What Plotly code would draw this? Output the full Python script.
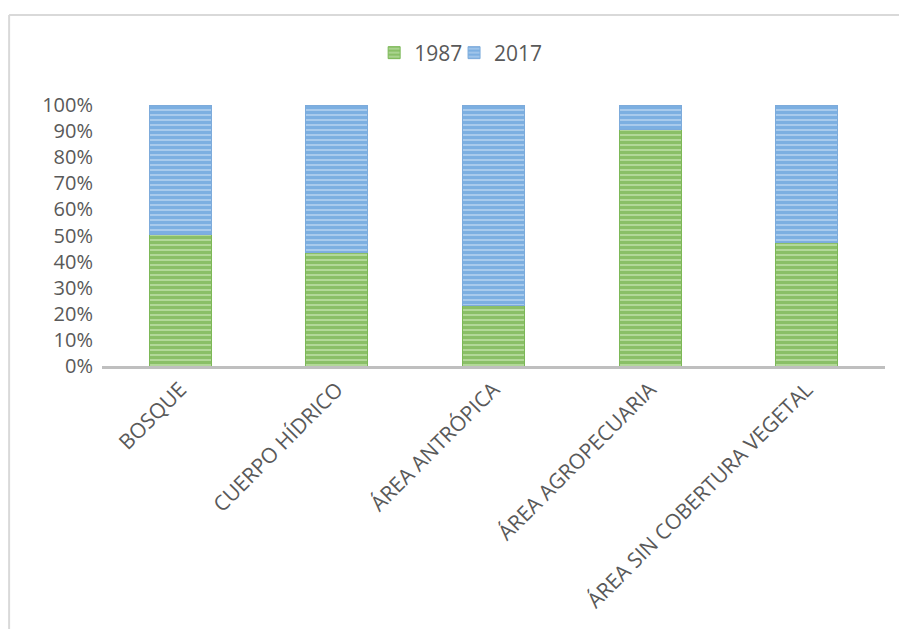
import plotly.graph_objects as go

categories = ["BOSQUE", "CUERPO HÍDRICO", "ÁREA ANTRÓPICA", "ÁREA AGROPECUARIA", "ÁREA SIN COBERTURA VEGETAL"]
s1987 = [50.2, 43.6, 23.0, 90.8, 47.5]
s2017 = [49.8, 56.4, 77.0, 9.2, 52.5]
series_names = ["1987", "2017"]
y_ticks = [0, 10, 20, 30, 40, 50, 60, 70, 80, 90, 100]
y_ticklabels = [f"{v}%" for v in y_ticks]

W, H = 899, 629
L, R, T, B = 101.5, 885.5, 105, 366

def px_x(px):
    return (px - L) / (R - L)

def px_y(py):
    return (B - py) / (B - T)

font = "'Open Sans', sans-serif"

fig = go.Figure()
fig.add_trace(go.Bar(
    x=categories, y=s1987, name=series_names[0], legend="legend",
    marker=dict(color="#B2D898", line=dict(color="#7CB857", width=1),
                pattern=dict(shape="-", fgcolor="#62A536", size=5, solidity=0.6)),
    width=0.395,
))
fig.add_trace(go.Bar(
    x=categories, y=s2017, name=series_names[1], legend="legend2",
    marker=dict(color="#A8CAEC", line=dict(color="#7DABDB", width=1),
                pattern=dict(shape="-", fgcolor="#5094D5", size=5, solidity=0.6)),
    width=0.395,
))

leg_common = dict(orientation="h", yanchor="middle", xanchor="left", y=px_y(53),
                  font=dict(size=21, color="#595959"), itemwidth=30, bgcolor="rgba(0,0,0,0)")

fig.update_layout(
    barmode="stack",
    width=W, height=H,
    margin=dict(l=L, r=W - R, t=T, b=H - B, pad=0),
    paper_bgcolor="white", plot_bgcolor="white",
    font=dict(family=font, color="#595959", size=20),
    showlegend=True,
    legend=dict(x=px_x(374), **leg_common),
    legend2=dict(x=px_x(454), **leg_common),
    xaxis=dict(showgrid=False, showline=True, linecolor="#BFBFBF", linewidth=3,
               tickangle=-45, tickfont=dict(size=21, color="#595959"), ticks=""),
    yaxis=dict(range=[0, 100], tickvals=y_ticks, ticktext=y_ticklabels, showgrid=False,
               showline=False, zeroline=False, ticks="", ticklabelstandoff=8,
               tickfont=dict(size=20, color="#595959")),
    shapes=[
        dict(type="line", xref="paper", yref="paper", x0=px_x(8.5), x1=px_x(905), y0=px_y(15), y1=px_y(15),
             line=dict(color="#D9D9D9", width=2)),
        dict(type="line", xref="paper", yref="paper", x0=px_x(8.5), x1=px_x(8.5), y0=px_y(15), y1=px_y(640),
             line=dict(color="#D9D9D9", width=2)),
    ],
)

fig.write_html("out.html")
